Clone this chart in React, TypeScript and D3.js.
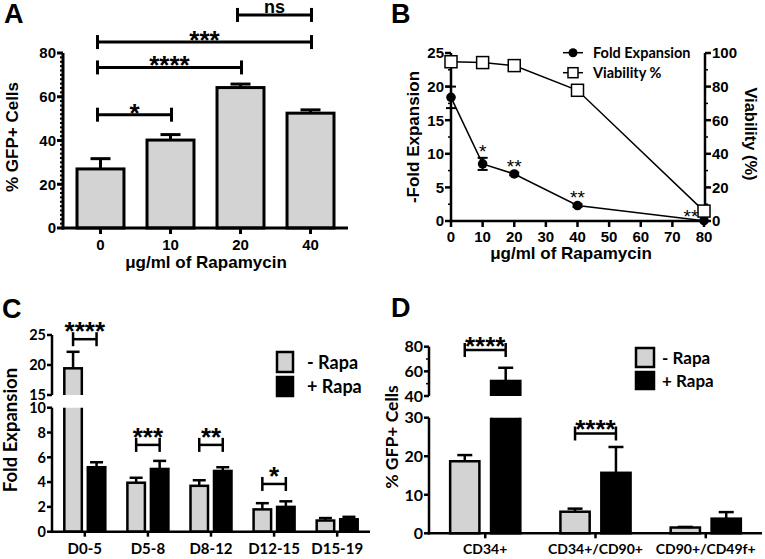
import React from "react";
import * as d3 from "d3";

// ---------------- Panel A data ----------------
const aDoses = ["0", "10", "20", "40"];
const aGfp = [27.0, 40.2, 64.2, 52.5];
const aGfpErr = [4.7, 2.5, 1.6, 1.5];
const aYTicks = [0, 20, 40, 60, 80];
const aBrackets = [
  { from: "0", to: "10", level: 51.8, label: "*" },
  { from: "0", to: "20", level: 73.4, label: "****" },
  { from: "0", to: "40", level: 85.0, label: "***" },
  { from: "20", to: "40", level: 97.4, label: "ns" },
];

// ---------------- Panel B data ----------------
const bDoses = [0, 10, 20, 40, 80];
const bFold = [18.4, 8.5, 7.0, 2.3, 0.05];
const bFoldErr = [1.6, 0.9, 0.2, 0.2, 0.0];
const bViability = [94.8, 94.3, 92.5, 77.8, 5.9];
const bStars = ["", "*", "**", "**", "**"];
const bXTicks = [0, 10, 20, 30, 40, 50, 60, 70, 80];
const bYLeftTicks = [0, 5, 10, 15, 20, 25];
const bYRightTicks = [0, 20, 40, 60, 80, 100];
const bSeriesNames = ["Fold Expansion", "Viability %"];

// ---------------- Panel C data ----------------
const cPeriods = ["D0-5", "D5-8", "D8-12", "D12-15", "D15-19"];
const cMinus = [19.45, 3.95, 3.7, 1.8, 0.9];
const cMinusErr = [2.75, 0.4, 0.45, 0.5, 0.2];
const cPlus = [5.2, 5.06, 4.9, 2.0, 1.0];
const cPlusErr = [0.4, 0.65, 0.3, 0.45, 0.2];
const cLowRange = [0, 10];
const cHighRange = [15, 25];
const cLowTicks = [0, 2, 4, 6, 8, 10];
const cHighTicks = [15, 20, 25];
const cBrackets = [
  { group: "D0-5", level: 24.3, label: "****" },
  { group: "D5-8", level: 7.0, label: "***" },
  { group: "D8-12", level: 7.0, label: "**" },
  { group: "D12-15", level: 3.85, label: "*" },
];

// ---------------- Panel D data ----------------
const dPops = ["CD34+", "CD34+/CD90+", "CD90+/CD49f+"];
const dMinus = [18.7, 5.6, 1.5];
const dMinusErr = [1.6, 0.8, 0.15];
const dPlus = [52.2, 15.7, 3.8];
const dPlusErr = [10.7, 6.7, 1.7];
const dLowRange = [0, 30];
const dHighRange = [40, 80];
const dLowTicks = [0, 10, 20, 30];
const dHighTicks = [40, 60, 80];
const dHighMinor = [50, 70];
const dBrackets = [
  { group: "CD34+", level: 77.3, label: "****" },
  { group: "CD34+/CD90+", level: 25.9, label: "****" },
];

const legendNames = ["- Rapa", "+ Rapa"];

// ---------------- Styles ----------------
const ARIAL = "'Liberation Sans', Arial, Helvetica, sans-serif";
const CAL = "Lato, 'Open Sans', sans-serif";
const GRAY = "#d3d3d3";

function ErrBar({ x, y0, y1, cap, sw }: any) {
  return (
    <g stroke="#000" strokeWidth={sw}>
      <line x1={x} x2={x} y1={y0} y2={y1} />
      <line x1={x - cap / 2} x2={x + cap / 2} y1={y1} y2={y1} />
    </g>
  );
}

function Bracket({ x1, x2, y, cap, sw, label, labelY, fs, font, weight }: any) {
  return (
    <g>
      <g stroke="#000" strokeWidth={sw} fill="none">
        <line x1={x1} x2={x2} y1={y} y2={y} />
        <line x1={x1} x2={x1} y1={y - cap} y2={y + cap} />
        <line x1={x2} x2={x2} y1={y - cap} y2={y + cap} />
      </g>
      <text x={(x1 + x2) / 2} y={labelY} textAnchor="middle" fontSize={fs} fontFamily={font} fontWeight={weight}>
        {label}
      </text>
    </g>
  );
}

function PanelA() {
  const y = d3.scaleLinear().domain([0, 80]).range([228, 53]);
  const x = d3.scaleBand<string>().domain(aDoses).range([63, 348]).paddingInner(0.329).paddingOuter(0.2);
  const c = (d: string) => (x(d) as number) + x.bandwidth() / 2;
  const minor = d3.range(0, 81, 2);
  return (
    <g>
      <text x={4} y={23} fontSize={27} fontWeight="bold" fontFamily={ARIAL}>A</text>
      {aDoses.map((d, i) => (
        <g key={d}>
          <rect x={x(d)} y={y(aGfp[i])} width={x.bandwidth()} height={y(0) - y(aGfp[i])} fill={GRAY} stroke="#000" strokeWidth={3} />
          <ErrBar x={c(d)} y0={y(aGfp[i])} y1={y(aGfp[i] + aGfpErr[i])} cap={20} sw={3} />
        </g>
      ))}
      <g stroke="#000" strokeWidth={3}>
        <line x1={63} x2={63} y1={y(0) + 1.5} y2={y(80)} />
        <line x1={61.5} x2={348} y1={y(0)} y2={y(0)} />
        {aYTicks.map((t) => <line key={t} x1={57} x2={63} y1={y(t)} y2={y(t)} />)}
        {aDoses.map((d) => <line key={d} x1={c(d)} x2={c(d)} y1={y(0)} y2={y(0) + 6} />)}
      </g>
      <g stroke="#000" strokeWidth={2}>
        {minor.map((t) => <line key={t} x1={60} x2={63} y1={y(t)} y2={y(t)} />)}
      </g>
      {aYTicks.map((t) => (
        <text key={t} x={56} y={y(t)} dy="0.36em" textAnchor="end" fontSize={15} fontWeight="bold" fontFamily={ARIAL}>{t}</text>
      ))}
      {aDoses.map((d) => (
        <text key={d} x={c(d)} y={250} textAnchor="middle" fontSize={15} fontWeight="bold" fontFamily={ARIAL}>{d}</text>
      ))}
      <text x={206} y={268} textAnchor="middle" fontSize={17} fontWeight="bold" fontFamily={ARIAL}>μg/ml of Rapamycin</text>
      <text transform="translate(18,137) rotate(-90)" textAnchor="middle" fontSize={17} fontWeight="bold" fontFamily={ARIAL}>% GFP+ Cells</text>
      {aBrackets.map((b, i) => {
        const yy = y(b.level);
        const ns = b.label === "ns";
        return (
          <Bracket key={i} x1={c(b.from) - 3} x2={c(b.to) + 1} y={yy} cap={7} sw={3} label={b.label}
            labelY={ns ? yy - 2 : yy + 7} fs={ns ? 18 : 26} font={ARIAL} weight="bold" />
        );
      })}
    </g>
  );
}

function PanelB() {
  const x = d3.scaleLinear().domain([0, 80]).range([451, 704]);
  const yL = d3.scaleLinear().domain([0, 25]).range([221, 53]);
  const yR = d3.scaleLinear().domain([0, 100]).range([221, 53]);
  const foldLine = d3.line<number>().x((_, i) => x(bDoses[i])).y((d) => yL(d));
  const viabLine = d3.line<number>().x((_, i) => x(bDoses[i])).y((d) => yR(d));
  const leftMinor = d3.range(2.5, 25, 5);
  const rightMinor = d3.range(10, 100, 20);
  return (
    <g>
      <text x={391} y={23} fontSize={27} fontWeight="bold" fontFamily={ARIAL}>B</text>
      <g stroke="#000" strokeWidth={2.5}>
        <line x1={451} x2={451} y1={yL(0)} y2={yL(25)} />
        <line x1={705} x2={705} y1={yL(0)} y2={yL(25)} />
        <line x1={451} x2={705} y1={yL(0)} y2={yL(0)} />
        {bYLeftTicks.map((t) => <line key={t} x1={445} x2={451} y1={yL(t)} y2={yL(t)} />)}
        {bYRightTicks.map((t) => <line key={t} x1={705} x2={711} y1={yR(t)} y2={yR(t)} />)}
        {bXTicks.map((t) => <line key={t} x1={x(t)} x2={x(t)} y1={yL(0)} y2={yL(0) + 6} />)}
      </g>
      <g stroke="#000" strokeWidth={1.5}>
        {leftMinor.map((t) => <line key={t} x1={448} x2={451} y1={yL(t)} y2={yL(t)} />)}
        {rightMinor.map((t) => <line key={t} x1={705} x2={708} y1={yR(t)} y2={yR(t)} />)}
      </g>
      {bYLeftTicks.map((t) => (
        <text key={t} x={444} y={yL(t)} dy="0.36em" textAnchor="end" fontSize={15} fontWeight="bold" fontFamily={ARIAL}>{t}</text>
      ))}
      {bYRightTicks.map((t) => (
        <text key={t} x={712} y={yR(t)} dy="0.36em" textAnchor="start" fontSize={15} fontWeight="bold" fontFamily={ARIAL}>{t}</text>
      ))}
      {bXTicks.map((t) => (
        <text key={t} x={x(t)} y={242} textAnchor="middle" fontSize={15} fontWeight="bold" fontFamily={ARIAL}>{t}</text>
      ))}
      <text x={571} y={259} textAnchor="middle" fontSize={17} fontWeight="bold" fontFamily={ARIAL}>μg/ml of Rapamycin</text>
      <text transform="translate(419,137) rotate(-90)" textAnchor="middle" fontSize={17} fontWeight="bold" fontFamily={ARIAL}>-Fold  Expansion</text>
      <text transform="translate(745,134) rotate(90)" textAnchor="middle" fontSize={16.5} fontWeight="bold" fontFamily={ARIAL}>Viability (%)</text>

      <path d={viabLine(bViability) as string} fill="none" stroke="#000" strokeWidth={1.5} />
      <path d={foldLine(bFold) as string} fill="none" stroke="#000" strokeWidth={1.5} />
      {bDoses.map((d, i) =>
        bFoldErr[i] > 0 ? (
          <g key={d} stroke="#000" strokeWidth={2}>
            <line x1={x(d)} x2={x(d)} y1={yL(bFold[i] - bFoldErr[i])} y2={yL(bFold[i] + bFoldErr[i])} />
            <line x1={x(d) - 5} x2={x(d) + 5} y1={yL(bFold[i] - bFoldErr[i])} y2={yL(bFold[i] - bFoldErr[i])} />
            <line x1={x(d) - 5} x2={x(d) + 5} y1={yL(bFold[i] + bFoldErr[i])} y2={yL(bFold[i] + bFoldErr[i])} />
          </g>
        ) : null
      )}
      {bDoses.map((d, i) => (
        <circle key={"c" + d} cx={x(d)} cy={yL(bFold[i])} r={4.8} fill="#000" />
      ))}
      {bDoses.map((d, i) => (
        <rect key={"s" + d} x={x(d) - 6} y={yR(bViability[i]) - 6} width={12} height={12} fill="#fff" stroke="#000" strokeWidth={1.5} />
      ))}
      {bDoses.map((d, i) => {
        if (!bStars[i]) return null;
        const last = i === bDoses.length - 1;
        const cx = last ? x(d) - 13 : x(d);
        const cy = last ? yL(bFold[i]) - 9 : yL(bFold[i] + bFoldErr[i]) - 11;
        return (
          <text key={"t" + d} x={cx} y={cy + 11} textAnchor="middle" fontSize={19} fontFamily={ARIAL}>{bStars[i]}</text>
        );
      })}
      {/* legend */}
      <g>
        <line x1={563} x2={583} y1={52.7} y2={52.7} stroke="#000" strokeWidth={1.5} />
        <circle cx={573} cy={52.7} r={4.5} fill="#000" />
        <text x={593} y={57.7} fontSize={14.5} fontWeight="bold" fontFamily={CAL}>{bSeriesNames[0]}</text>
        <line x1={563} x2={583} y1={72.7} y2={72.7} stroke="#000" strokeWidth={1.5} />
        <rect x={568} y={67.7} width={10} height={10} fill="#fff" stroke="#000" strokeWidth={1.5} />
        <text x={593} y={77.7} fontSize={14.5} fontWeight="bold" fontFamily={CAL}>{bSeriesNames[1]}</text>
      </g>
    </g>
  );
}

function BrokenBars({ id, cats, minus, minusErr, plus, plusErr, segs, axisX, axisEnd, outerPad, innerPad, innerOuter, cap, brackets, starBase, tickFs }: any) {
  const xo = d3.scaleBand<string>().domain(cats).range([axisX, axisEnd]).paddingOuter(outerPad).paddingInner(0);
  const xi = d3.scaleBand<string>().domain(["m", "p"]).range([0, xo.bandwidth()]).paddingInner(innerPad).paddingOuter(innerOuter);
  const series = [
    { k: "m", v: minus, e: minusErr, fill: GRAY },
    { k: "p", v: plus, e: plusErr, fill: "#000" },
  ];
  const low = d3.scaleLinear().domain(segs[0].domain).range(segs[0].range);
  const segScales = segs.map((s: any) => d3.scaleLinear().domain(s.domain).range(s.range));
  const bx = (cat: string, k: string) => (xo(cat) as number) + (xi(k) as number);
  const bc = (cat: string, k: string) => bx(cat, k) + xi.bandwidth() / 2;
  return (
    <g>
      {segs.map((seg: any, si: number) => {
        const y = segScales[si];
        const clipTop = si === 0 ? seg.range[1] : seg.range[1] - 40;
        const clipBot = si === 0 ? seg.range[0] + 10 : seg.range[0];
        return (
          <g key={si}>
            <clipPath id={`${id}clip${si}`}>
              <rect x={axisX} y={clipTop} width={axisEnd - axisX + 10} height={clipBot - clipTop} />
            </clipPath>
            <g clipPath={`url(#${id}clip${si})`}>
              {cats.map((cat: string, i: number) =>
                series.map((s) => {
                  const v = s.v[i];
                  if (v <= seg.domain[0]) return null;
                  const top = v > seg.domain[1] ? seg.range[1] - 10 : y(v);
                  const bot = si === 0 ? y(0) : seg.range[0] + 10;
                  return (
                    <rect key={cat + s.k} x={bx(cat, s.k)} y={top} width={xi.bandwidth()} height={bot - top}
                      fill={s.fill} stroke="#000" strokeWidth={2.5} />
                  );
                })
              )}
            </g>
            {cats.map((cat: string, i: number) =>
              series.map((s) => {
                const v = s.v[i];
                if (v <= seg.domain[0] || v > seg.domain[1]) return null;
                return <ErrBar key={"e" + cat + s.k} x={bc(cat, s.k)} y0={y(v)} y1={y(v + s.e[i])} cap={cap} sw={2.5} />;
              })
            )}
            <g stroke="#000" strokeWidth={2.5}>
              <line x1={axisX} x2={axisX} y1={seg.range[0] + (si === 0 ? 1.2 : 0)} y2={seg.range[1]} />
              {seg.ticks.map((t: number) => <line key={t} x1={axisX - 5} x2={axisX} y1={y(t)} y2={y(t)} />)}
              {(seg.minor || []).map((t: number) => <line key={"m" + t} x1={axisX - 3} x2={axisX} y1={y(t)} y2={y(t)} strokeWidth={1.5} />)}
            </g>
            {seg.ticks.map((t: number) => (
              <text key={t} x={axisX - 6} y={y(t)} dy="0.36em" textAnchor="end" fontSize={tickFs} fontWeight="bold" fontFamily={CAL}>{t}</text>
            ))}
          </g>
        );
      })}
      <g stroke="#000" strokeWidth={2.5}>
        <line x1={axisX - 1.2} x2={axisEnd} y1={low(0)} y2={low(0)} />
        {cats.map((cat: string) => {
          const cx = (xo(cat) as number) + xo.bandwidth() / 2;
          return <line key={cat} x1={cx} x2={cx} y1={low(0)} y2={low(0) + 5} />;
        })}
      </g>
      {brackets.map((b: any, i: number) => {
        const si = b.level > segs[0].domain[1] ? 1 : 0;
        const yy = segScales[si](b.level);
        return (
          <Bracket key={i} x1={bc(b.group, "m")} x2={bc(b.group, "p")} y={yy} cap={7} sw={2.5} label={b.label}
            labelY={yy + starBase} fs={26} font={ARIAL} weight="bold" />
        );
      })}
    </g>
  );
}

function PanelC() {
  const segs = [
    { domain: cLowRange, range: [531.7, 407.7], ticks: cLowTicks },
    { domain: cHighRange, range: [395, 335], ticks: cHighTicks },
  ];
  const xo = d3.scaleBand<string>().domain(cPeriods).range([52, 370]).paddingOuter(0.02).paddingInner(0);
  return (
    <g>
      <text x={2} y={318} fontSize={27} fontWeight="bold" fontFamily={ARIAL}>C</text>
      <BrokenBars id="c" cats={cPeriods} minus={cMinus} minusErr={cMinusErr} plus={cPlus} plusErr={cPlusErr}
        segs={segs} axisX={52} axisEnd={370} outerPad={0.02} innerPad={0.255} innerOuter={0.47} cap={13}
        brackets={cBrackets} starBase={1} tickFs={14.5} />
      {cPeriods.map((p) => (
        <text key={p} x={(xo(p) as number) + xo.bandwidth() / 2} y={554} textAnchor="middle" fontSize={15} fontWeight="bold" fontFamily={CAL}>{p}</text>
      ))}
      <text transform="translate(17,430) rotate(-90)" textAnchor="middle" fontSize={18.5} fontWeight="bold" fontFamily={CAL}>Fold Expansion</text>
      <rect x={277} y={352} width={16} height={20} fill={GRAY} stroke="#000" strokeWidth={2.5} />
      <rect x={277} y={377} width={16} height={19} fill="#000" stroke="#000" strokeWidth={2.5} />
      <text x={307} y={369} fontSize={18} fontWeight="bold" fontFamily={CAL}>{legendNames[0]}</text>
      <text x={307} y={393} fontSize={18} fontWeight="bold" fontFamily={CAL}>{legendNames[1]}</text>
    </g>
  );
}

function PanelD() {
  const segs = [
    { domain: dLowRange, range: [533.3, 417.7], ticks: dLowTicks },
    { domain: dHighRange, range: [396, 346.7], ticks: dHighTicks, minor: dHighMinor },
  ];
  const xo = d3.scaleBand<string>().domain(dPops).range([429, 762]).paddingOuter(0.01).paddingInner(0);
  return (
    <g>
      <text x={391} y={317} fontSize={27} fontWeight="bold" fontFamily={ARIAL}>D</text>
      <BrokenBars id="d" cats={dPops} minus={dMinus} minusErr={dMinusErr} plus={dPlus} plusErr={dPlusErr}
        segs={segs} axisX={429} axisEnd={762} outerPad={0.01} innerPad={0.285} innerOuter={0.49} cap={15}
        brackets={dBrackets} starBase={5} tickFs={16} />
      {dPops.map((p) => (
        <text key={p} x={(xo(p) as number) + xo.bandwidth() / 2} y={554} textAnchor="middle" fontSize={14} fontWeight="bold" fontFamily={CAL}>{p}</text>
      ))}
      <text transform="translate(398,437) rotate(-90)" textAnchor="middle" fontSize={17.5} fontWeight="bold" fontFamily={CAL}>% GFP+ Cells</text>
      <rect x={636} y={348} width={18} height={19} fill={GRAY} stroke="#000" strokeWidth={2.5} />
      <rect x={636} y={372} width={18} height={17} fill="#000" stroke="#000" strokeWidth={2.5} />
      <text x={662} y={364} fontSize={17} fontWeight="bold" fontFamily={CAL}>{legendNames[0]}</text>
      <text x={662} y={387} fontSize={17} fontWeight="bold" fontFamily={CAL}>{legendNames[1]}</text>
    </g>
  );
}

export default function App() {
  return (
    <svg width={765} height={559} viewBox="0 0 765 559" style={{ position: "absolute", left: 0, top: 0, background: "#fff" }}>
      <rect width={765} height={559} fill="#fff" />
      <PanelA />
      <PanelB />
      <PanelC />
      <PanelD />
    </svg>
  );
}
